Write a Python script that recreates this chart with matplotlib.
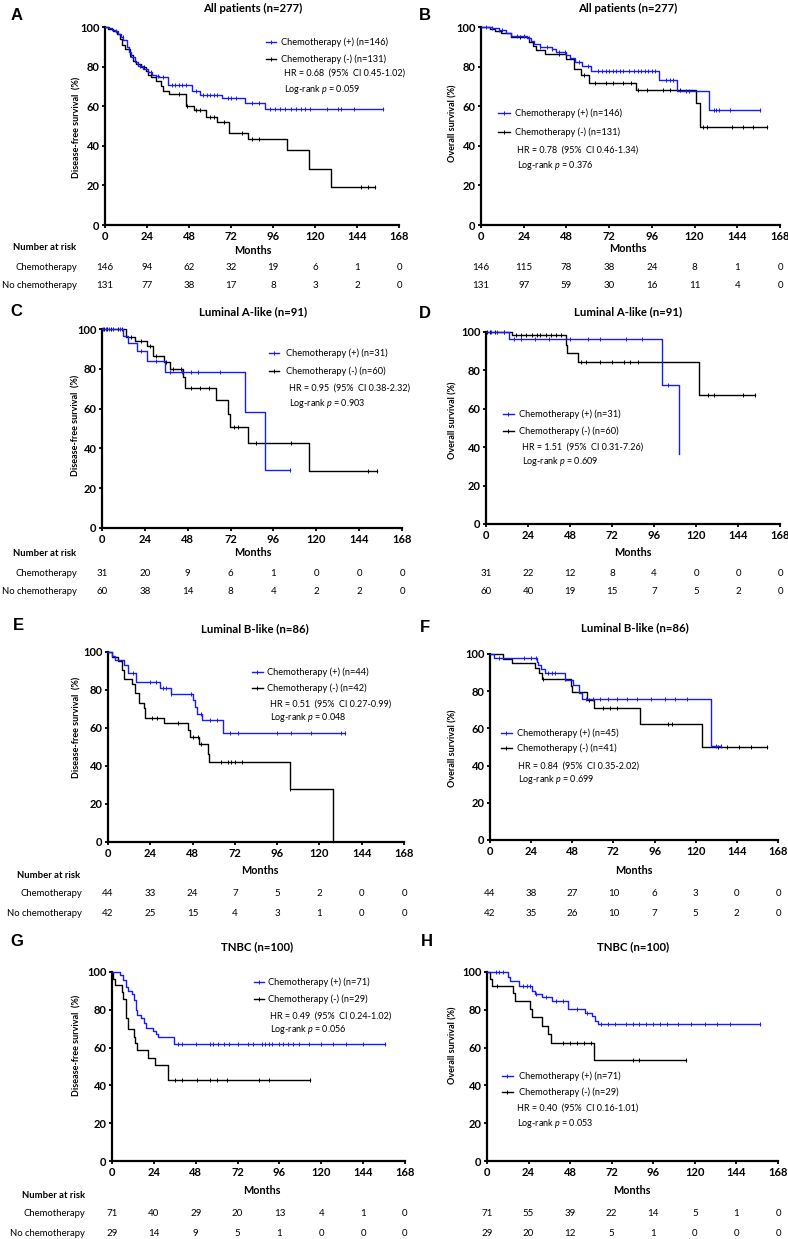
import numpy as np
import matplotlib
matplotlib.use('Agg')
from matplotlib import pyplot as plt
from matplotlib import transforms

plt.rcParams['font.family'] = ['Lato', 'DejaVu Sans']
plt.rcParams['mathtext.fontset'] = 'custom'
plt.rcParams['mathtext.it'] = 'Lato:italic'
plt.rcParams['mathtext.rm'] = 'Lato'

W, H = 788, 1239
BLUE = '#1a1aff'

months = [0, 24, 48, 72, 96, 120, 144, 168]
yticks = [0, 20, 40, 60, 80, 100]

# ---- A: DFS, all patients
a_pos_t = [2, 4, 5.5, 7.5, 9, 10.5, 12.5, 13.5, 15, 17, 19, 21.5, 24.5, 27, 29, 31, 36, 49.5, 54, 67, 80, 91.5]
a_pos_s = [99.3, 98.6, 97.8, 96.4, 95, 93.5, 90, 87.5, 85, 82.5, 80.5, 79, 77.5, 76, 75.3, 74.5, 70.8, 67.8, 65.8, 64, 61.5, 58.8]
a_pos_end = 159
a_pos_cens = [6, 10, 20, 26, 30, 33, 38, 40, 42, 44, 46, 52, 56, 58, 60, 62, 64, 70, 72, 75, 84, 88, 94, 97, 100,
              103, 106, 109, 112, 114, 117, 127, 133, 135, 142, 159]
a_neg_t = [1.7, 4.5, 6.8, 8.3, 9.8, 11.2, 14, 15.9, 17.8, 20.6, 23.5, 24.8, 26.3, 29.2, 32, 33.3, 36.7, 46.2, 50.6, 57.6, 64.2, 70.8, 81.8, 104, 116.3, 129]
a_neg_s = [99, 98, 96.5, 94, 91, 89, 86, 83, 81.5, 80, 78, 76, 74.5, 72.5, 70, 67.5, 66, 60, 58.3, 54.5, 51.8, 46.7, 43.4, 38, 28.5, 19.1]
a_neg_end = 154
a_neg_cens = [14, 22, 26, 42, 47, 52, 54, 60, 62, 68, 78, 84, 88, 146, 150, 154]
a_risk_pos = [146, 94, 62, 32, 19, 6, 1, 0]
a_risk_neg = [131, 77, 38, 17, 8, 3, 2, 0]

# ---- B: OS, all patients
b_pos_t = [6, 10, 14, 17, 26, 28, 30, 33, 40, 42, 48, 50, 53, 57, 62, 100, 110, 128]
b_pos_s = [99.3, 98.6, 97.2, 95.5, 94.5, 93, 91.5, 90, 89, 87.3, 86, 84.2, 82.4, 80.5, 77.7, 73.2, 67.8, 58.1]
b_pos_end = 157
b_pos_cens = [3, 6, 10, 12, 20, 24, 27, 33, 37, 40, 44, 47, 55, 60, 66, 68, 70, 72, 74, 76, 78, 80, 83, 86, 88, 90,
              92, 94, 96, 98, 104, 106, 108, 115, 117, 131, 132, 134, 140, 157]
b_neg_t = [5, 8, 11, 17, 27, 29, 31, 36, 48, 52, 56, 60.5, 87, 121, 123]
b_neg_s = [99, 98, 97, 94.8, 92.5, 90.5, 88.6, 86.2, 83.6, 79, 75.8, 71.8, 68, 61.5, 49.7]
b_neg_end = 160.5
b_neg_cens = [22, 44, 58, 64, 70, 74, 80, 84, 88, 93, 102, 106, 112, 125, 127, 141, 147, 153, 160.5]
b_risk_pos = [146, 115, 78, 38, 24, 8, 1, 0]
b_risk_neg = [131, 97, 59, 30, 16, 11, 4, 0]

# ---- C: DFS, luminal A-like
c_pos_t = [12, 14.5, 19.5, 25, 35.5, 80, 91.5]
c_pos_s = [96.5, 92.8, 89, 84.1, 78.3, 58.5, 29.3]
c_pos_end = 105
c_pos_cens = [0.5, 2, 4, 6, 10, 22, 30, 38, 45, 50, 54, 66, 105]
c_neg_t = [13.5, 18.5, 25, 28.5, 34.5, 38, 45.5, 46.5, 64, 70.5, 71.5, 81.5, 116]
c_neg_s = [96.2, 94.1, 91.6, 86.6, 83.3, 79.8, 76, 70.2, 64.4, 57.5, 51, 42.6, 28.4]
c_neg_end = 154
c_neg_cens = [1, 3, 5, 9, 11, 16, 22, 27, 30, 36, 40, 44, 50, 55, 60, 74, 76, 86, 106, 149, 154]
c_risk_pos = [31, 20, 9, 6, 1, 0, 0, 0]
c_risk_neg = [60, 38, 14, 8, 4, 2, 2, 0]

# ---- D: OS, luminal A-like
d_pos_t = [13, 100.5, 110.5]
d_pos_s = [96.5, 72.5, 36.5]
d_pos_end = 110.5
d_pos_cens = [3, 6, 10, 16, 20, 28, 36, 48, 58, 65, 80, 89, 104]
d_neg_t = [15, 45.5, 46.5, 52.5, 121.5]
d_neg_s = [98.3, 93.4, 89, 84.2, 67.3]
d_neg_end = 153.5
d_neg_cens = [0.5, 2, 5, 10, 17, 20, 23, 26, 29, 31, 34, 37, 40, 43, 54, 57, 65, 72, 79, 82, 87, 127, 130, 147, 153.5]
d_risk_pos = [31, 22, 12, 8, 4, 0, 0, 0]
d_risk_neg = [60, 40, 19, 15, 7, 5, 2, 0]

# ---- E: DFS, luminal B-like
e_pos_t = [2.3, 4, 9, 11.5, 16, 29.5, 35.5, 48.5, 49.5, 50.5, 53.5, 65.5]
e_pos_s = [97.7, 95.6, 93.3, 88.9, 84.2, 81, 78, 74.8, 71.3, 67.3, 64.3, 57.6]
e_pos_end = 134.5
e_pos_cens = [14, 24, 27, 31, 33, 36, 47, 53, 58, 62, 69, 74, 96, 104, 115, 132, 134.5]
e_neg_t = [2.3, 5.5, 8, 9.3, 13.6, 15.5, 17.4, 20.2, 21.2, 32, 45.2, 46.3, 51.4, 56.5, 57.5, 103.4, 127.6]
e_neg_s = [97.6, 95.2, 90.7, 85.9, 83, 78.3, 73.1, 70.5, 65.5, 62.5, 59, 55.1, 51.6, 46.5, 41.9, 28, 0]
e_neg_end = 127.6
e_neg_cens = [25, 28, 40, 48, 51, 53, 64, 68, 70, 72, 76, 103.5]
e_risk_pos = [44, 33, 24, 7, 5, 2, 0, 0]
e_risk_neg = [42, 25, 15, 4, 3, 1, 0, 0]

# ---- F: OS, luminal B-like
f_pos_t = [2.5, 27.2, 28, 30, 32, 43.7, 48.5, 52, 53.4, 129]
f_pos_s = [97.8, 95.5, 94, 92.1, 89.8, 86.2, 83.1, 79, 75.8, 50.6]
f_pos_end = 135
f_pos_cens = [5, 20, 24, 27, 34, 36, 38, 56, 60, 64, 69, 74, 80, 86, 94, 102, 108, 115, 132, 135]
f_neg_t = [7.8, 12.6, 26.2, 28.5, 30.1, 47.2, 48, 56.5, 60.8, 87.4, 123.7]
f_neg_s = [97.5, 95.2, 92.5, 90, 86.5, 83, 79.8, 75.4, 71, 62.3, 50.1]
f_neg_end = 161.7
f_neg_cens = [31, 44, 58, 66, 70, 74, 104, 106, 133, 138, 145, 152, 161.7]
f_risk_pos = [44, 38, 27, 10, 6, 3, 0, 0]
f_risk_neg = [42, 35, 26, 10, 7, 5, 2, 0]

# ---- G: DFS, TNBC
g_pos_t = [4.8, 6.3, 7.8, 9.2, 11.7, 12.4, 13.6, 14.3, 16.8, 18.2, 19.7, 23.5, 25.4, 26.4, 35.4]
g_pos_s = [98.5, 95.6, 92, 90.2, 88.5, 85.3, 80, 77.3, 75.6, 72.9, 70.6, 68.8, 67.3, 65.8, 61.9]
g_pos_end = 156.4
g_pos_cens = [38, 40, 48, 56, 58, 61, 64, 67, 72, 78, 81, 86, 88, 90, 92, 96, 98, 101, 104, 107, 113, 120, 127,
              134, 144, 156.4]
g_neg_t = [0.6, 1.5, 5.7, 6.3, 7.8, 9.2, 12.4, 13, 14.5, 20.7, 24.5, 32.1]
g_neg_s = [96.5, 93.3, 89.5, 85.7, 75.5, 69.7, 65.8, 62.3, 58.6, 54.3, 50.8, 42.8]
g_neg_end = 113.8
g_neg_cens = [36, 40, 49, 56, 60, 66, 84, 90, 113.8]
g_risk_pos = [71, 40, 29, 20, 13, 4, 1, 0]
g_risk_neg = [29, 14, 9, 5, 1, 0, 0, 0]

# ---- H: OS, TNBC
h_pos_t = [12.1, 13.4, 18.2, 25.9, 27.8, 31.7, 37.4, 46.5, 56.3, 60.5, 62.4, 63.9]
h_pos_s = [97.5, 95.4, 92.6, 90.1, 88.2, 86.9, 84.8, 80.6, 78.4, 76.5, 74.2, 72.4]
h_pos_end = 157.8
h_pos_cens = [5, 7, 9, 21, 23, 25, 28, 34, 40, 44, 52, 58, 66, 70, 74, 80, 84, 88, 92, 96, 100, 104, 110, 118,
              126, 133, 140, 157.8]
h_neg_t = [1.5, 2.9, 14.8, 16.3, 24.6, 25.9, 32, 35.5, 37, 61.8]
h_neg_s = [96.5, 92.6, 88.7, 84.8, 80.4, 76, 71.6, 67.1, 62.5, 53.7]
h_neg_end = 114.8
h_neg_cens = [6, 44, 48, 52, 56, 60, 84, 88, 114.8]
h_risk_pos = [71, 55, 39, 22, 14, 5, 1, 0]
h_risk_neg = [29, 20, 12, 5, 1, 0, 0, 0]

titles = ['All patients (n=277)', 'All patients (n=277)', 'Luminal A-like (n=91)', 'Luminal A-like (n=91)',
          'Luminal B-like (n=86)', 'Luminal B-like (n=86)', 'TNBC (n=100)', 'TNBC (n=100)']
n_pos = [146, 146, 31, 31, 44, 45, 71, 71]
n_neg = [131, 131, 60, 60, 42, 41, 29, 29]
hr_text = ['HR = 0.68  (95%  CI 0.45-1.02)', 'HR = 0.78  (95%  CI 0.46-1.34)',
           'HR = 0.95  (95%  CI 0.38-2.32)', 'HR = 1.51  (95%  CI 0.31-7.26)',
           'HR = 0.51  (95%  CI 0.27-0.99)', 'HR = 0.84  (95%  CI 0.35-2.02)',
           'HR = 0.49  (95%  CI 0.24-1.02)', 'HR = 0.40  (95%  CI 0.16-1.01)']
p_vals = ['0.059', '0.376', '0.903', '0.609', '0.048', '0.699', '0.056', '0.053']
letters = list('ABCDEFGH')

curves = [
    (a_pos_t, a_pos_s, a_pos_end, a_pos_cens, a_neg_t, a_neg_s, a_neg_end, a_neg_cens, a_risk_pos, a_risk_neg),
    (b_pos_t, b_pos_s, b_pos_end, b_pos_cens, b_neg_t, b_neg_s, b_neg_end, b_neg_cens, b_risk_pos, b_risk_neg),
    (c_pos_t, c_pos_s, c_pos_end, c_pos_cens, c_neg_t, c_neg_s, c_neg_end, c_neg_cens, c_risk_pos, c_risk_neg),
    (d_pos_t, d_pos_s, d_pos_end, d_pos_cens, d_neg_t, d_neg_s, d_neg_end, d_neg_cens, d_risk_pos, d_risk_neg),
    (e_pos_t, e_pos_s, e_pos_end, e_pos_cens, e_neg_t, e_neg_s, e_neg_end, e_neg_cens, e_risk_pos, e_risk_neg),
    (f_pos_t, f_pos_s, f_pos_end, f_pos_cens, f_neg_t, f_neg_s, f_neg_end, f_neg_cens, f_risk_pos, f_risk_neg),
    (g_pos_t, g_pos_s, g_pos_end, g_pos_cens, g_neg_t, g_neg_s, g_neg_end, g_neg_cens, g_risk_pos, g_risk_neg),
    (h_pos_t, h_pos_s, h_pos_end, h_pos_cens, h_neg_t, h_neg_s, h_neg_end, h_neg_cens, h_risk_pos, h_risk_neg),
]

# layout in pixels: axis x(0), x(168), y(100), y(0)
boxes = [(105, 399, 27, 225), (481, 780, 27, 225), (102, 402, 329, 528), (486, 780, 332, 524),
         (108, 404, 652, 842), (490, 778, 654, 840), (112, 405, 972, 1161), (487, 778, 972, 1161)]
title_xy = [(253, 8), (628, 8), (253, 312), (628, 312), (255, 629), (635, 628), (257, 947), (633, 947)]
letter_xy = [(17, 16), (425, 16), (16, 312), (425, 313), (18, 626), (425, 627), (17, 942), (427, 942)]
ylab_xy = [(77, 127), (453, 123), (76, 425), (453, 420), (77, 727), (453, 748), (77, 1045), (453, 1045)]
months_xy = [(253, 250), (628, 249), (253, 553), (633, 552), (260, 871), (634, 871), (262, 1191), (632, 1191)]
risk_y = [(267, 286), (267, 286), (573, 592), (573, 592), (894, 913), (894, 913), (1214, 1233), (1214, 1233)]
nar_xy = [(13, 248, 77), None, (13, 554, 77), None, (17, 875, 82), None, (22, 1195, 85), None]
# legend: line x0, x1, text x, y(+), y(-), hr x, y hr, y p
leg = [(266, 276, 281, 42, 59, 284, 73, 89), (498, 510, 515, 113, 132, 517, 150, 165),
       (269, 279, 286, 353, 371, 289, 388, 403), (503, 514, 519, 414, 431, 522, 447, 461),
       (252, 263, 267, 672, 688, 270, 704, 718), (501, 512, 517, 733, 748, 518, 766, 779),
       (254, 264, 268, 982, 999, 270, 1016, 1030), (502, 513, 519, 1076, 1092, 517, 1108, 1123)]

fig = plt.figure(figsize=(W / 100, H / 100), dpi=100)
ov = fig.add_axes([0, 0, 1, 1])
ov.set_xlim(0, W)
ov.set_ylim(H, 0)
ov.axis('off')
ov.set_zorder(10)
ov.patch.set_visible(False)


def km(ax, t, s, end, cens, color):
    x = [0] + list(t) + [end]
    y = [100] + list(s) + [s[-1]]
    ax.step(x, y, where='post', color=color, lw=1.0, clip_on=False, zorder=3)
    levels = [100] + list(s)
    cy = [levels[np.searchsorted(t, c, side='right')] for c in cens]
    ax.plot(cens, cy, ls='none', marker='|', ms=3.5, mew=0.7, color=color, clip_on=False, zorder=3)


for i in range(8):
    x0, x1, y100, y0 = boxes[i]
    ax = fig.add_axes([x0 / W, 1 - y0 / H, (x1 - x0) / W, (y0 - y100) / H])
    ax.patch.set_visible(False)
    pt, ps, pe, pc, nt, ns, ne, nc, rp, rn = curves[i]
    km(ax, nt, ns, ne, nc, 'black')
    km(ax, pt, ps, pe, pc, BLUE)
    ax.set_xlim(0, 168)
    ax.set_ylim(0, 100)
    ax.set_xticks(months)
    ax.set_yticks(yticks)
    for sp in ['top', 'right']:
        ax.spines[sp].set_visible(False)
    for sp in ['left', 'bottom']:
        ax.spines[sp].set_linewidth(1.6)
    ax.tick_params(direction='out', length=2.5, width=1.3, labelsize=8, pad=1.5)
    for lab in ax.get_xticklabels() + ax.get_yticklabels():
        lab.set_fontweight('bold')

    # texts
    ov.text(*title_xy[i], titles[i], ha='center', va='center', fontsize=8.2, fontweight='bold')
    ov.text(*letter_xy[i], letters[i], ha='center', va='center', fontsize=12, fontweight='bold',
            family='Liberation Sans')
    ylab = 'Disease-free survival  (%)' if i % 2 == 0 else 'Overall survival (%)'
    ov.text(*ylab_xy[i], ylab, ha='center', va='center', rotation=90, fontsize=6.5, fontweight='bold')
    ov.text(*months_xy[i], 'Months', ha='center', va='center', fontsize=7.8, fontweight='bold')

    # legend
    lx0, lx1, tx, yp, yn, hx, yh, ypv = leg[i]
    for yy, col, lab in [(yp, BLUE, 'Chemotherapy (+) (n=%d)' % n_pos[i]),
                         (yn, 'black', 'Chemotherapy (-) (n=%d)' % n_neg[i])]:
        ov.plot([lx0, lx1], [yy, yy], color=col, lw=1.0)
        ov.plot([(lx0 + lx1) / 2], [yy], marker='|', ms=3.5, mew=0.7, color=col)
        ov.text(tx, yy, lab, ha='left', va='center', fontsize=6.7)
    ov.text(hx, yh, hr_text[i], ha='left', va='center', fontsize=6.5)
    ov.text(hx, ypv, 'Log-rank $p$ = ' + p_vals[i], ha='left', va='center', fontsize=6.5)

    # number at risk
    tr = transforms.blended_transform_factory(ax.transData, ov.transData)
    for k, m in enumerate(months):
        ax.text(m, risk_y[i][0], str(rp[k]), transform=tr, ha='center', va='center', fontsize=7)
        ax.text(m, risk_y[i][1], str(rn[k]), transform=tr, ha='center', va='center', fontsize=7)
    if nar_xy[i] is not None:
        nx, ny, rx = nar_xy[i]
        ov.text(nx, ny, 'Number at risk', ha='left', va='center', fontsize=6.8, fontweight='bold')
        ov.text(rx, risk_y[i][0], 'Chemotherapy', ha='right', va='center', fontsize=6.8)
        ov.text(rx, risk_y[i][1], 'No chemotherapy', ha='right', va='center', fontsize=6.8)

fig.savefig('out.png', dpi=100)
